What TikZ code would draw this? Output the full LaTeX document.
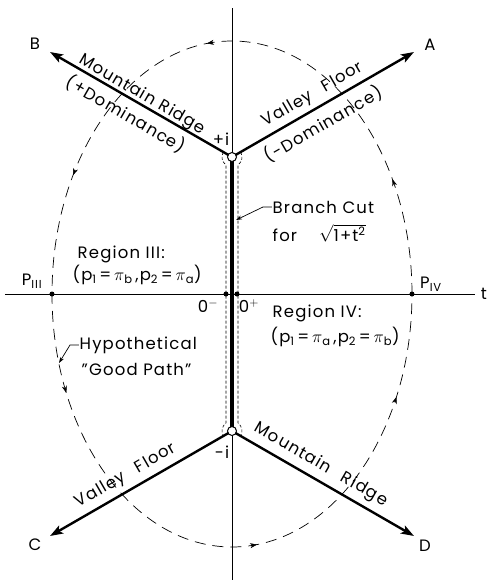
\documentclass[tikz,border=0pt]{standalone}
\usepackage{fontspec}
\setmainfont[LetterSpace=7]{Poppins}
\usetikzlibrary{positioning,arrows.meta,decorations.markings}

\begin{document}
\begin{tikzpicture}[
    x=1pt, y=1pt,
    every node/.style={font=\fontsize{16.5}{18}\selectfont, inner sep=0.5pt},
    ridge/.style={line width=2.4pt, -{Stealth[length=13pt,width=9pt,inset=3pt]}},
    axisline/.style={line width=0.8pt},
    cutedge/.style={line width=0.6pt, dash pattern=on 3pt off 2pt},
    pathtip/.style={decoration={markings, mark=at position 1 with {\arrow{Stealth[length=7pt,width=5pt]}}}, decorate}
]
    \useasboundingbox (-232,-288) rectangle (256,294);

    % Points on the imaginary axis and arrow ends
    \coordinate (ipos) at (0,137);
    \coordinate (ineg) at (0,-137);
    \coordinate (tipA) at (182,242);
    \coordinate (tipB) at (-182,242);
    \coordinate (tipC) at (-182,-242);
    \coordinate (tipD) at (182,-242);

    % Hypothetical good path (dashed ellipse, counterclockwise)
    \draw[line width=0.7pt, dash pattern=on 11pt off 7pt] (0,0) ellipse [x radius=180, y radius=253];
    \foreach \a [evaluate=\a as \b using \a-2] in {27,98,152,203,278,336}
        \path[pathtip] (\b:180 and 253) -- (\a:180 and 253);

    % Axes
    \coordinate (xl) at (-227,0);
    \coordinate (xr) at (243,0);
    \coordinate (yt) at (0,286);
    \coordinate (yb) at (0,-286);
    \draw[axisline] (xl) -- (xr);
    \draw[axisline] (yt) -- (yb);
    \node (tlab) at (252,0) {t};

    % Contour hugging the branch cut
    \draw[cutedge] (150:10) ++(0,137) arc[start angle=150, end angle=233.13, radius=10]
        -- (-6,-129) arc[start angle=126.87, end angle=210, radius=10];
    \draw[cutedge] (30:10) ++(0,137) arc[start angle=30, end angle=-53.13, radius=10]
        -- (6,-129) arc[start angle=53.13, end angle=-30, radius=10];

    % Ridges and valleys
    \draw[ridge] (ipos) -- (tipA);
    \draw[ridge] (ipos) -- (tipB);
    \draw[ridge] (ineg) -- (tipC);
    \draw[ridge] (ineg) -- (tipD);

    % Branch cut
    \draw[line width=4pt] (ipos) -- (ineg);
    \draw[line width=1pt, fill=white] (ipos) circle (4.5);
    \draw[line width=1pt, fill=white] (ineg) circle (4.5);

    % Points on the real axis
    \coordinate (zminus) at (-6,0);
    \coordinate (zplus) at (5,0);
    \coordinate (pthree) at (-180,0);
    \coordinate (pfour) at (180,0);
    \fill (zminus) circle (2.5);
    \fill (zplus) circle (2.5);
    \fill (pthree) circle (2.5);
    \fill (pfour) circle (2.5);
    \node (zmlab) at (-24,-12) {0$^-$};
    \node (zplab) at (17,-12) {0$^+$};
    \node (p3lab) at (-200,13) {P\textsubscript{III}};
    \node (p4lab) at (199,10) {P\textsubscript{IV}};
    \node (iplab) at (-11,155) {+i};
    \node (imlab) at (-10,-158) {-i};

    % End labels
    \node (labA) at (198,249) {A};
    \node (labB) at (-197,250) {B};
    \node (labC) at (-197,-251) {C};
    \node (labD) at (193,-252) {D};

    % Labels along the ridges
    \node[rotate=-30] (mrB) at (-90,199) {Mountain Ridge};
    \node[rotate=-30] (domB) at (-106,180) {(+Dominance)};
    \node[rotate=30] (vfA) at (81,199) {Valley\hspace{0.5em} Floor};
    \node[rotate=30] (domA) at (91,170) {(-Dominance)};
    \node[rotate=30] (vfC) at (-106,-182) {Valley\hspace{0.5em} Floor};
    \node[rotate=-30] (mrD) at (89,-171) {Mountain\hspace{0.5em} Ridge};

    % Regions
    \node[anchor=west] (reg3) at (-155,40) {Region III:};
    \node[anchor=west] (reg3p) at (-160,19) {(p\textsubscript{1}\,=\,$\pi$\textsubscript{b}\,,p\textsubscript{2}\,=\,$\pi$\textsubscript{a})};
    \node[anchor=west] (reg4) at (40,-19) {Region IV:};
    \node[anchor=west] (reg4p) at (38,-43) {(p\textsubscript{1}\,=\,$\pi$\textsubscript{a}\,,p\textsubscript{2}\,=\,$\pi$\textsubscript{b})};

    % Branch cut note
    \node[anchor=west] (cut) at (40,87) {Branch Cut};
    \node[anchor=west] (cutf) at (40,61) {for \quad$\sqrt{\mbox{1+t\textsuperscript{2}}}$};
    \coordinate (cutend) at (4,74);
    \draw[line width=0.7pt, -{Stealth[length=6pt,width=4pt]}] (cut.west) -- ++(-9,0) -- (cutend);

    % Good path note
    \node[anchor=west] (hyp) at (-153,-51) {Hypothetical};
    \node[anchor=west] (good) at (-151,-75) {"Good Path"};
    \coordinate (goodend) at (-173,-69);
    \draw[line width=0.7pt, -{Stealth[length=6pt,width=4pt]}] (hyp.west) -- ++(-9,0) -- (goodend);
\end{tikzpicture}
\end{document}
